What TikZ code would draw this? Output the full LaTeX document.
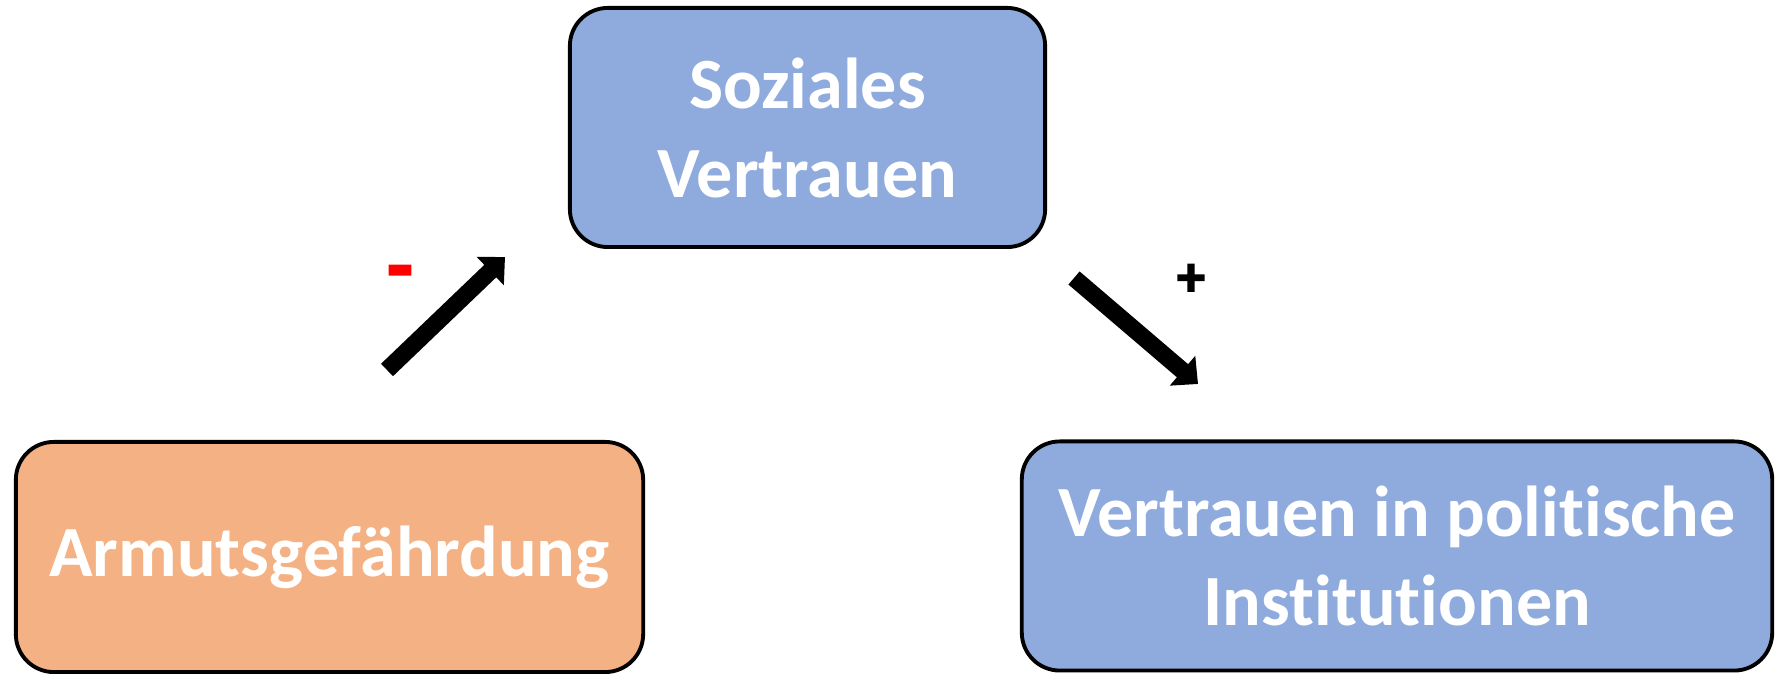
\documentclass[tikz,border=0pt]{standalone}
\usepackage{fontspec}
\setmainfont{Carlito}[Ligatures=NoCommon]
\newfontfamily\signfont{Carlito}[FakeBold=2.5,Ligatures=NoCommon]
\usetikzlibrary{arrows.meta}
\definecolor{boxblue}{HTML}{8FAADC}
\definecolor{boxorange}{HTML}{F4B183}
\tikzset{
  box/.style={draw=black, line width=1.1pt, rounded corners=10.8pt, align=center,
    text=white, font=\fontsize{20.5}{25.3}\selectfont\bfseries, inner sep=0pt},
  bigarrow/.style={line width=4.9pt, -{Triangle[width=10.8pt,length=5.8pt]}},
  signlabel/.style={inner sep=0pt}
}
\begin{document}
\begin{tikzpicture}[x=0.01cm,y=-0.01cm]
\useasboundingbox (0,0) rectangle (1776,674);
\node[box, fill=boxblue, minimum width=4.75cm, minimum height=2.39cm] (soz) at (807.5,127.5) {Soziales\\Vertrauen};
\node[box, fill=boxorange, minimum width=6.27cm, minimum height=2.30cm] (arm) at (329.5,557) {Armutsgefährdung};
\node[box, fill=boxblue, minimum width=7.50cm, minimum height=2.29cm] (pol) at (1397,556) {Vertrauen in politische\\Institutionen};
\coordinate (a1s) at (387,370);
\coordinate (a1e) at (505,257);
\coordinate (a2s) at (1074,278);
\coordinate (a2e) at (1198,384);
\draw[bigarrow] (a1s) -- (a1e);
\draw[bigarrow] (a2s) -- (a2e);
\node[signlabel, text=red, font=\fontsize{24}{24}\signfont\bfseries] (minus) at (400,280) {-};
\node[signlabel, text=black, font=\fontsize{16}{16}\signfont\bfseries] (plus) at (1191,280) {+};
\end{tikzpicture}
\end{document}
